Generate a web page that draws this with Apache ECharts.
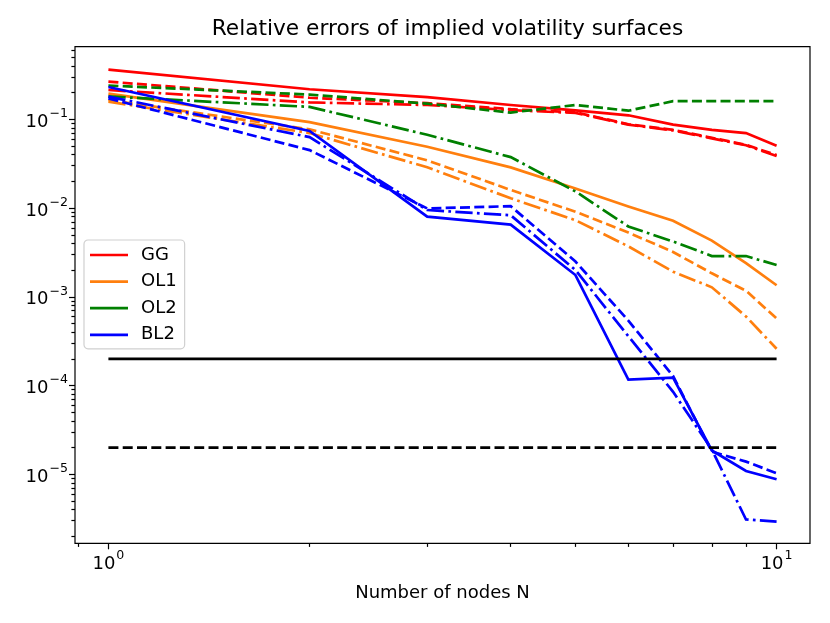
<!DOCTYPE html>
<html>
<head>
<meta charset="utf-8">
<script src="https://cdn.jsdelivr.net/npm/echarts@6/dist/echarts.min.js"></script>
<style>html,body{margin:0;padding:0;background:#fff;}#c{width:830px;height:623px;}</style>
</head>
<body>
<div id="c"></div>
<script>
// ---- data ----
const nodes = [1, 2, 3, 4, 5, 6, 7, 8, 9, 10];
const ggSolid   = [0.362, 0.218, 0.178, 0.145, 0.126, 0.111, 0.087, 0.076, 0.070, 0.0505];
const ggDashed  = [0.266, 0.175, 0.152, 0.130, 0.120, 0.088, 0.076, 0.062, 0.0515, 0.0395];
const ggDashdot = [0.214, 0.155, 0.145, 0.127, 0.118, 0.087, 0.075, 0.061, 0.051, 0.0385];
const ol1Solid   = [0.195, 0.093, 0.049, 0.0287, 0.0166, 0.0104, 0.0072, 0.0043, 0.0024, 0.00135];
const ol1Dashed  = [0.165, 0.077, 0.0345, 0.016, 0.0091, 0.0053, 0.0032, 0.00184, 0.00117, 0.00057];
const ol1Dashdot = [0.158, 0.070, 0.0288, 0.0129, 0.0073, 0.0037, 0.00192, 0.00128, 0.0006, 0.00026];
const ol2Solid   = [];
const ol2Dashed  = [0.24, 0.19, 0.150, 0.119, 0.145, 0.125, 0.160, 0.160, 0.160, 0.160];
const ol2Dashdot = [0.181, 0.138, 0.067, 0.0375, 0.0154, 0.0062, 0.0042, 0.00288, 0.00288, 0.00228];
const bl2Solid   = [0.231, 0.074, 0.0080, 0.0065, 0.00176, 1.17e-4, 1.23e-4, 1.86e-5, 1.09e-5, 8.8e-6];
const bl2Dashed  = [0.172, 0.045, 0.0099, 0.0105, 0.0025, 5.4e-4, 1.28e-4, 1.8e-5, 1.39e-5, 1.03e-5];
const bl2Dashdot = [0.180, 0.063, 0.0095, 0.0083, 0.0020, 3.6e-4, 8.5e-5, 1.9e-5, 3.1e-6, 2.93e-6];
const thresholdSolid = 2e-4;
const thresholdDashed = 2e-5;
const legendNames = ['GG', 'OL1', 'OL2', 'BL2'];
const xMajorTicks = [1, 10];
const yMajorTicks = [1e-5, 1e-4, 1e-3, 1e-2, 1e-1];
const titleText = 'Relative errors of implied volatility surfaces';
const xAxisTitle = 'Number of nodes N';

// ---- styling ----
const FONT = 'DejaVu Sans';
const FS = 18;
const LW = 2.7;
const DASH = [10, 4.3];
const DASHDOT = [17.3, 4.3, 2.7, 4.3];
const colors = { GG: '#ff0000', OL1: '#ff7f0e', OL2: '#008000', BL2: '#0000ff' };

const xMin = Math.pow(10, -0.05), xMax = Math.pow(10, 1.05);
const yMin = Math.pow(10, -5.777), yMax = Math.pow(10, -0.182);

function minorTicks(lo, hi) {
  const out = [];
  for (let e = -7; e <= 2; e++) {
    for (let m = 2; m <= 9; m++) {
      const v = m * Math.pow(10, e);
      if (v >= lo && v <= hi) out.push(v);
    }
  }
  return out;
}
const xMinor = minorTicks(xMin, xMax);
const yMinor = minorTicks(yMin, yMax);

function powLabel(v) {
  const e = Math.round(Math.log10(v));
  const s = e < 0 ? '\u2212' + (-e) : String(e);
  return '{b|10}{s|' + s + '}';
}
const richLabel = {
  b: { fontFamily: FONT, fontSize: FS, color: '#000', lineHeight: 24, verticalAlign: 'bottom' },
  s: { fontFamily: FONT, fontSize: 12.6, color: '#000', lineHeight: 24, verticalAlign: 'top', padding: [0, 0, 0, 1] }
};

function pairs(arr) { return arr.map((v, i) => [nodes[i], v]); }
function mk(name, arr, color, type, z) {
  return {
    name: name, type: 'line', data: pairs(arr), xAxisIndex: 0, yAxisIndex: 0,
    symbol: 'none', showSymbol: false, silent: true, z: z,
    lineStyle: { color: color, width: LW, type: type, cap: 'butt', join: 'miter' },
    itemStyle: { color: color }
  };
}
function hline(name, value, type) {
  const s = mk(name, [], '#000', type, 6);
  s.data = [[nodes[0], value], [nodes[nodes.length - 1], value]];
  return s;
}

const series = [
  mk('GG', ggSolid, colors.GG, 'solid', 2),
  mk('GG dashed', ggDashed, colors.GG, DASH, 2),
  mk('GG dashdot', ggDashdot, colors.GG, DASHDOT, 2),
  mk('OL1', ol1Solid, colors.OL1, 'solid', 3),
  mk('OL1 dashed', ol1Dashed, colors.OL1, DASH, 3),
  mk('OL1 dashdot', ol1Dashdot, colors.OL1, DASHDOT, 3),
  mk('OL2', ol2Solid, colors.OL2, 'solid', 4),
  mk('OL2 dashed', ol2Dashed, colors.OL2, DASH, 4),
  mk('OL2 dashdot', ol2Dashdot, colors.OL2, DASHDOT, 4),
  mk('BL2', bl2Solid, colors.BL2, 'solid', 5),
  mk('BL2 dashed', bl2Dashed, colors.BL2, DASH, 5),
  mk('BL2 dashdot', bl2Dashdot, colors.BL2, DASHDOT, 5),
  hline('threshold solid', thresholdSolid, 'solid'),
  hline('threshold dashed', thresholdDashed, DASH)
];

const tickStyle = { color: '#000', width: 1.2 };
const option = {
  animation: false,
  backgroundColor: '#fff',
  title: {
    text: titleText, left: 442.5, top: 13, textAlign: 'center',
    textStyle: { fontFamily: FONT, fontSize: 21.7, fontWeight: 'normal', color: '#000' }
  },
  legend: {
    data: legendNames, orient: 'vertical', left: 84, top: 240,
    icon: 'rect', itemWidth: 38, itemHeight: 2.7, itemGap: 8.6,
    padding: [6, 8, 5, 6],
    backgroundColor: '#fff', borderColor: '#d0d0d0', borderWidth: 1.2, borderRadius: 4,
    textStyle: { fontFamily: FONT, fontSize: FS, color: '#000', lineHeight: 18, padding: [0, 0, 0, 8] },
    selectedMode: false
  },
  grid: { left: 75, right: 20, top: 46.7, bottom: 79.7, show: true, borderColor: '#000', borderWidth: 1.2, backgroundColor: 'transparent', z: 10 },
  xAxis: [
    {
      type: 'log', logBase: 10, min: xMin, max: xMax,
      name: xAxisTitle, nameLocation: 'middle', nameGap: 41,
      nameTextStyle: { fontFamily: FONT, fontSize: FS, color: '#000' },
      axisLine: { show: false },
      splitLine: { show: false },
      axisTick: { show: true, length: 6, lineStyle: tickStyle, customValues: xMajorTicks },
      axisLabel: { show: true, margin: 6, customValues: xMajorTicks, formatter: powLabel, rich: richLabel }
    },
    {
      type: 'log', logBase: 10, min: xMin, max: xMax, position: 'bottom',
      axisLine: { show: false }, splitLine: { show: false },
      axisTick: { show: true, length: 3.6, lineStyle: tickStyle, customValues: xMinor },
      axisLabel: { show: false }
    }
  ],
  yAxis: [
    {
      type: 'log', logBase: 10, min: yMin, max: yMax,
      axisLine: { show: false }, splitLine: { show: false },
      axisTick: { show: true, length: 6, lineStyle: tickStyle, customValues: yMajorTicks },
      axisLabel: { show: true, margin: 7, customValues: yMajorTicks, formatter: powLabel, rich: richLabel }
    },
    {
      type: 'log', logBase: 10, min: yMin, max: yMax, position: 'left',
      axisLine: { show: false }, splitLine: { show: false },
      axisTick: { show: true, length: 3.6, lineStyle: tickStyle, customValues: yMinor },
      axisLabel: { show: false }
    }
  ],
  series: series
};
const chart = echarts.init(document.getElementById('c'), null, { renderer: 'canvas' });
chart.setOption(option);
</script>
</body>
</html>
